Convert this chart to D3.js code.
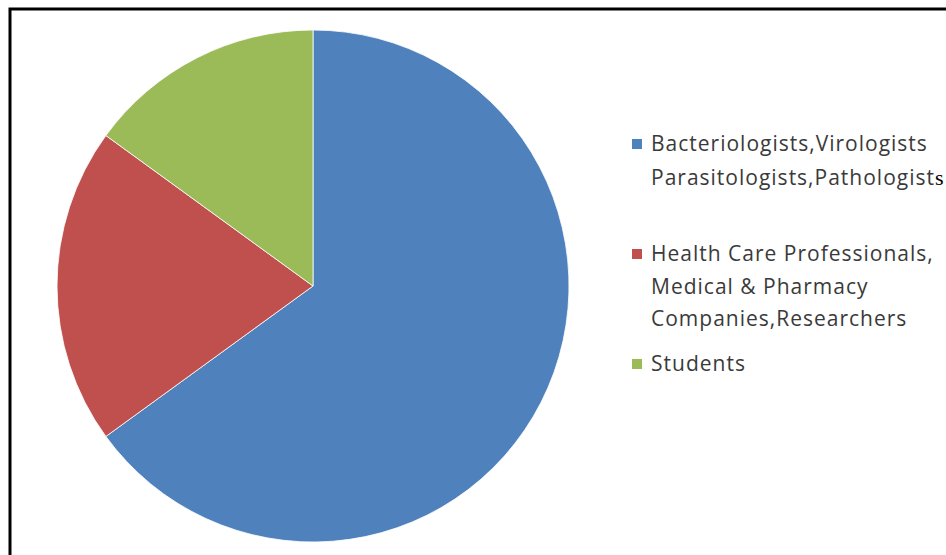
<!DOCTYPE html>
<html>
<head>
<meta charset="utf-8">
<script src="https://cdn.jsdelivr.net/npm/d3@7"></script>
<style>
  body { margin: 0; background: #fff; }
  svg { display: block; }
</style>
</head>
<body>
<svg width="946" height="555"></svg>
<script>
// chart data
var categories = ['Bacteriologists,Virologists Parasitologists,Pathologists',
                  'Health Care Professionals, Medical & Pharmacy Companies,Researchers',
                  'Students'];
var values = [65, 20, 15];
var colors = ['#4F81BD', '#C0504D', '#9BBB59'];
// legend lines as they wrap in the picture
var legendLines = [
    ['Bacteriologists,Virologists', 'Parasitologists,Pathologist'],
    ['Health Care Professionals,', 'Medical & Pharmacy', 'Companies,Researchers'],
    ['Students']
];

var svg = d3.select('svg'),
    cx = 313, cy = 286, radius = 256;

// frame (only left and top edges show)
svg.append('path')
    .attr('d', 'M10,555 L10,9 L946,9')
    .attr('fill', 'none')
    .attr('stroke', '#000')
    .attr('stroke-width', 3);

var g = svg.append('g').attr('transform', 'translate(' + cx + ',' + cy + ')');

var pie = d3.pie().sort(null).value(function(d){ return d; });
var arc = d3.arc().innerRadius(0).outerRadius(radius);

g.selectAll('.slice')
    .data(pie(values))
    .enter().append('path')
    .attr('class', 'slice')
    .attr('d', arc)
    .attr('fill', function(d, i){ return colors[i]; })
    .attr('stroke', '#fff')
    .attr('stroke-width', 0.8);

// legend
var legendY = [144, 254, 364];
var legend = svg.append('g').attr('font-family', 'Open Sans, sans-serif')
    .attr('font-size', 21).attr('letter-spacing', 1.0).attr('fill', '#3a3a3a');

legendLines.forEach(function(lines, i) {
    legend.append('rect')
        .attr('x', 632).attr('y', legendY[i] - 5)
        .attr('width', 10).attr('height', 10)
        .attr('fill', colors[i]);
    lines.forEach(function(line, j) {
        var t = legend.append('text')
            .attr('x', 651)
            .attr('y', legendY[i] + j * (i == 0 ? 34 : 32.5))
            .attr('dy', '0.35em')
            .text(line);
        if (i == 0 && j == 1) {
            t.append('tspan').attr('font-family', 'Liberation Serif, serif')
                .attr('font-size', 22).attr('letter-spacing', 0).attr('fill', '#000').text('s');
        }
    });
});
</script>
</body>
</html>
